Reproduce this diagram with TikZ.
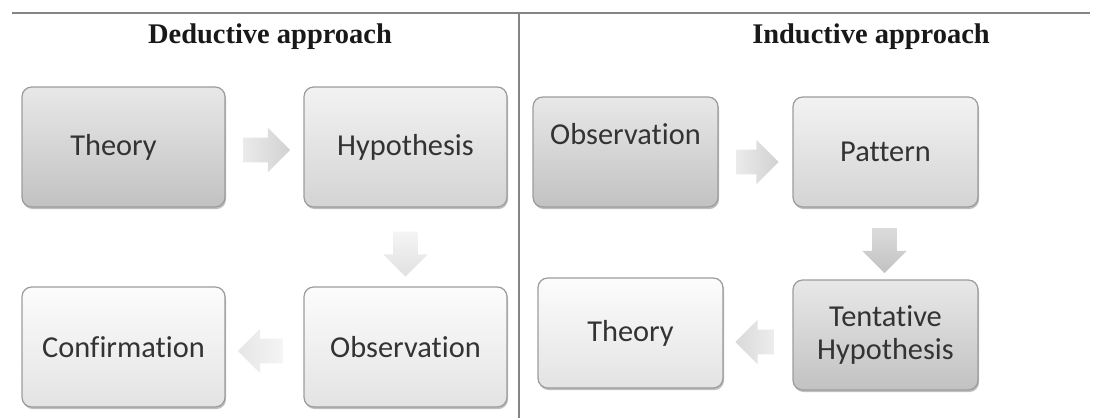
\documentclass[tikz,border=0pt]{standalone}
\usepackage{fontspec}
\setmainfont{Liberation Serif}
\newfontfamily\boxfont[Ligatures={NoCommon}]{Carlito}
\usetikzlibrary{shapes.arrows,shadows,calc}

\definecolor{txt}{HTML}{333333}
\definecolor{edge}{HTML}{9C9C9C}
\definecolor{rule}{HTML}{858585}

\tikzset{
  boxtext/.style={font=\boxfont\fontsize{17.3}{21}\selectfont, text=txt, align=center},
  box/.style={boxtext, draw=edge, line width=0.7pt, rounded corners=5.5pt,
    drop shadow={shadow xshift=0.6pt, shadow yshift=-1.2pt, fill=black, opacity=0.25}},
  bigbox/.style={box, minimum width=4.06cm, minimum height=2.4cm},
  smallbox/.style={box, minimum width=3.7cm, minimum height=2.2cm},
  dark/.style={top color=white!91!black, bottom color=white!76!black},
  mid/.style={top color=white!95!black, bottom color=white!83!black},
  light/.style={top color=white!99!black, bottom color=white!89!black},
  blockarrow/.style={single arrow, draw=none, inner sep=0.24cm,
    minimum height=0.9cm, minimum width=0cm,
    single arrow head extend=0.2cm, single arrow head indent=0cm},
  title/.style={font=\bfseries\fontsize{16.2}{19}\selectfont, text=black!90},
}

\begin{document}
\begin{tikzpicture}[x=0.02cm, y=-0.02cm]
\useasboundingbox (0,0) rectangle (1103,418);

% frame rules
\coordinate (ruleL) at (12,13);
\coordinate (ruleR) at (1090,13);
\coordinate (divT) at (519,13);
\coordinate (divB) at (519,418);
\draw[rule, line width=1.2pt] (ruleL) -- (ruleR);
\draw[rule, line width=0.9pt] (divT) -- (divB);

% headings
\node[title] (dtitle) at (270,37) {Deductive approach};
\node[title] (ititle) at (871,37) {Inductive approach};

% deductive side
\node[bigbox, dark]  (dTheory) at (123.5,147) {Theory\hspace*{0.4cm}};
\node[bigbox, mid]   (dHyp)    at (405.5,147) {Hypothesis};
\node[bigbox, light] (dObs)    at (405.5,347) {Observation};
\node[bigbox, light] (dConf)   at (123.5,347) {Confirmation};

% inductive side (the first label sits above the middle of its box)
\node[smallbox, dark] (iObs) at (625.5,152) {};
\node[boxtext] (iObsText) at (625.5,134) {Observation};
\node[smallbox, mid]   (iPat)    at (885.5,152) {Pattern};
\node[smallbox, dark]  (iTent)   at (885.5,335) {Tentative\\[-2pt]Hypothesis};
\node[smallbox, light] (iTheory) at (630.5,333) {Theory};

% block arrows between the steps
\node[blockarrow, minimum height=0.94cm, left color=white!92!black, right color=white!82!black]
  (a1) at ($(dTheory.east)!0.5!(dHyp.west)+(-4,3)$) {};
\node[blockarrow, minimum height=0.9cm, shape border rotate=270, top color=white!96!black, bottom color=white!88!black]
  (a2) at ($(dHyp.south)!0.5!(dObs.north)+(0,1)$) {};
\node[blockarrow, minimum height=0.9cm, shape border rotate=180, right color=white!96!black, left color=white!90!black]
  (a3) at ($(dObs.west)!0.5!(dConf.east)+(2,4)$) {};

\node[blockarrow, minimum height=0.84cm, left color=white!92!black, right color=white!82!black]
  (b1) at ($(iObs.east)!0.5!(iPat.west)+(-4,10)$) {};
\node[blockarrow, minimum height=0.9cm, shape border rotate=270, top color=white!86!black, bottom color=white!76!black]
  (b2) at ($(iPat.south)!0.5!(iTent.north)+(-1,1)$) {};
\node[blockarrow, minimum height=0.78cm, shape border rotate=180, right color=white!93!black, left color=white!85!black]
  (b3) at ($(iTent.west)!0.5!(iTheory.east)+(3,8)$) {};
\end{tikzpicture}
\end{document}
